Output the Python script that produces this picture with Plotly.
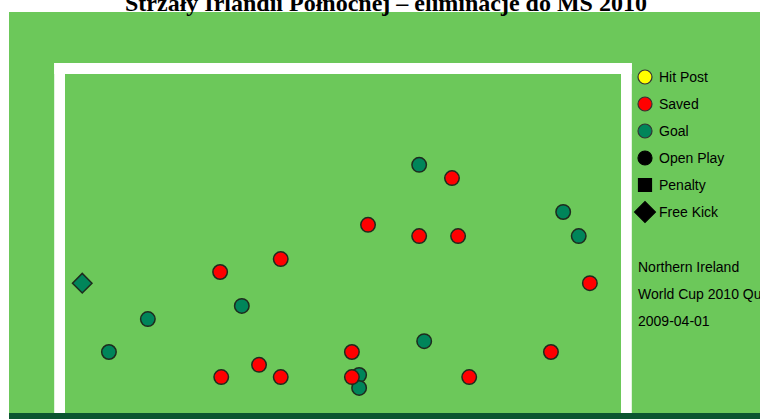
import plotly.graph_objects as go

# ---- data (x: % of goal width from left post, y: % of goal height above ground)
goal_x = [63.7, 89.6, 92.4, 31.8, 14.9, 7.9, 64.6, 52.9, 52.9]
goal_y = [73.2, 59.3, 52.2, 31.6, 27.7, 18.0, 21.2, 11.2, 7.4]
freekick_goal_x = [3.1]
freekick_goal_y = [38.3]
saved_x = [69.6, 54.5, 63.7, 70.7, 38.8, 27.9, 94.4, 51.6, 87.4, 34.9, 28.1, 38.8, 51.6, 72.7]
saved_y = [69.3, 55.5, 52.2, 52.2, 45.4, 41.6, 38.3, 18.0, 18.0, 14.2, 10.6, 10.6, 10.6, 10.6]

legend_labels = ["Hit Post", "Saved", "Goal", "Open Play", "Penalty", "Free Kick"]
legend_colors = ["#ffff00", "#ff0000", "#00855a", "#000000", "#000000", "#000000"]
legend_symbols = ["circle", "circle", "circle", "circle", "square", "diamond"]
legend_sizes = [14, 14, 14, 14, 13, 16]
info_lines = ["Northern Ireland", "World Cup 2010 Qualifier", "2009-04-01"]
title_text = "Strzały Irlandii Północnej – eliminacje do MŚ 2010"

# ---- styling / layout constants
W, H = 760, 419
PX_X, PX_Y = 5.56, 3.39          # pixels per data unit
LEFT_PX, GROUND_PX = 65, 413      # inner left post, ground line
GREEN = "#6cc85a"
DARK = "#0b5530"
TEAL = "#00855a"
RED = "#ff0000"
OUTLINE = "#1e2b1e"

xr = [-LEFT_PX / PX_X, (W - LEFT_PX) / PX_X]
yr = [(GROUND_PX - H) / PX_Y, GROUND_PX / PX_Y]
post_w = 10.8 / PX_X
bar_h = 11 / PX_Y
field_left = xr[0] + 9 / PX_X
field_top = (GROUND_PX - 12) / PX_Y

fig = go.Figure()

fig.add_trace(go.Scatter(
    x=goal_x, y=goal_y, mode="markers", name="Goal",
    marker=dict(symbol="circle", size=14.5, color=TEAL, opacity=1,
                line=dict(color=OUTLINE, width=1.5)),
    hoverinfo="skip"))
fig.add_trace(go.Scatter(
    x=freekick_goal_x, y=freekick_goal_y, mode="markers", name="Goal (free kick)",
    marker=dict(symbol="diamond", size=15, color=TEAL, opacity=1,
                line=dict(color=OUTLINE, width=1.5)),
    hoverinfo="skip"))
fig.add_trace(go.Scatter(
    x=saved_x, y=saved_y, mode="markers", name="Saved",
    marker=dict(symbol="circle", size=14.5, color=RED, opacity=1,
                line=dict(color=OUTLINE, width=1.5)),
    hoverinfo="skip"))

# legend drawn on a pixel overlay axis
LEG_X, LEG_Y0, LEG_STEP, LEG_TX = 645, 77, 27, 657
leg_rows = list(range(len(legend_labels)))
fig.add_trace(go.Scatter(
    x=[LEG_X] * len(leg_rows), y=[LEG_Y0 + LEG_STEP * i for i in leg_rows],
    xaxis="x2", yaxis="y2", mode="markers",
    marker=dict(symbol=legend_symbols, size=legend_sizes, color=legend_colors, opacity=1,
                line=dict(color=["#333333" if c != "#000000" else "#000000" for c in legend_colors],
                          width=1.2)),
    hoverinfo="skip"))

shapes = [
    dict(type="rect", xref="x", yref="y", x0=field_left, x1=xr[1], y0=0, y1=field_top,
         fillcolor=GREEN, line=dict(width=0), layer="below"),
    dict(type="rect", xref="x", yref="y", x0=field_left, x1=xr[1], y0=yr[0], y1=0,
         fillcolor=DARK, line=dict(width=0), layer="below"),
    # posts and crossbar
    dict(type="rect", xref="x", yref="y", x0=-post_w, x1=0, y0=0, y1=100 + bar_h,
         fillcolor="white", line=dict(width=0), layer="below"),
    dict(type="rect", xref="x", yref="y", x0=100, x1=100 + post_w, y0=0, y1=100 + bar_h,
         fillcolor="white", line=dict(width=0), layer="below"),
    dict(type="rect", xref="x", yref="y", x0=-post_w, x1=100 + post_w, y0=100, y1=100 + bar_h,
         fillcolor="white", line=dict(width=0), layer="below"),
]

annotations = []
for i, lab in enumerate(legend_labels):
    annotations.append(dict(xref="x2", yref="y2", x=LEG_TX, y=LEG_Y0 + LEG_STEP * i,
                            text=lab, showarrow=False, xanchor="left", yanchor="middle",
                            font=dict(family="Liberation Sans, Arial", size=14, color="#000000")))
INFO_X, INFO_Y0 = 636, 267
for i, line in enumerate(info_lines):
    annotations.append(dict(xref="x2", yref="y2", x=INFO_X, y=INFO_Y0 + LEG_STEP * i,
                            text=line, showarrow=False, xanchor="left", yanchor="middle",
                            font=dict(family="Liberation Sans, Arial", size=14, color="#000000")))
annotations.append(dict(xref="x2", yref="y2", x=386, y=3, text="<b>" + title_text + "</b>",
                        showarrow=False, xanchor="center", yanchor="middle",
                        font=dict(family="Liberation Serif, Times New Roman", size=24, color="#000000")))

fig.update_layout(
    width=W, height=H, margin=dict(l=0, r=0, t=0, b=0),
    paper_bgcolor="white", plot_bgcolor="rgba(0,0,0,0)",
    showlegend=False,
    xaxis=dict(range=xr, visible=False, fixedrange=True),
    yaxis=dict(range=yr, visible=False, fixedrange=True),
    xaxis2=dict(range=[0, W], overlaying="x", visible=False, fixedrange=True),
    yaxis2=dict(range=[H, 0], overlaying="y", visible=False, fixedrange=True),
    shapes=shapes, annotations=annotations,
)

fig.write_html("out.html", config={"displayModeBar": False},
               post_script="document.body.style.margin='0';document.body.style.overflow='hidden';")
